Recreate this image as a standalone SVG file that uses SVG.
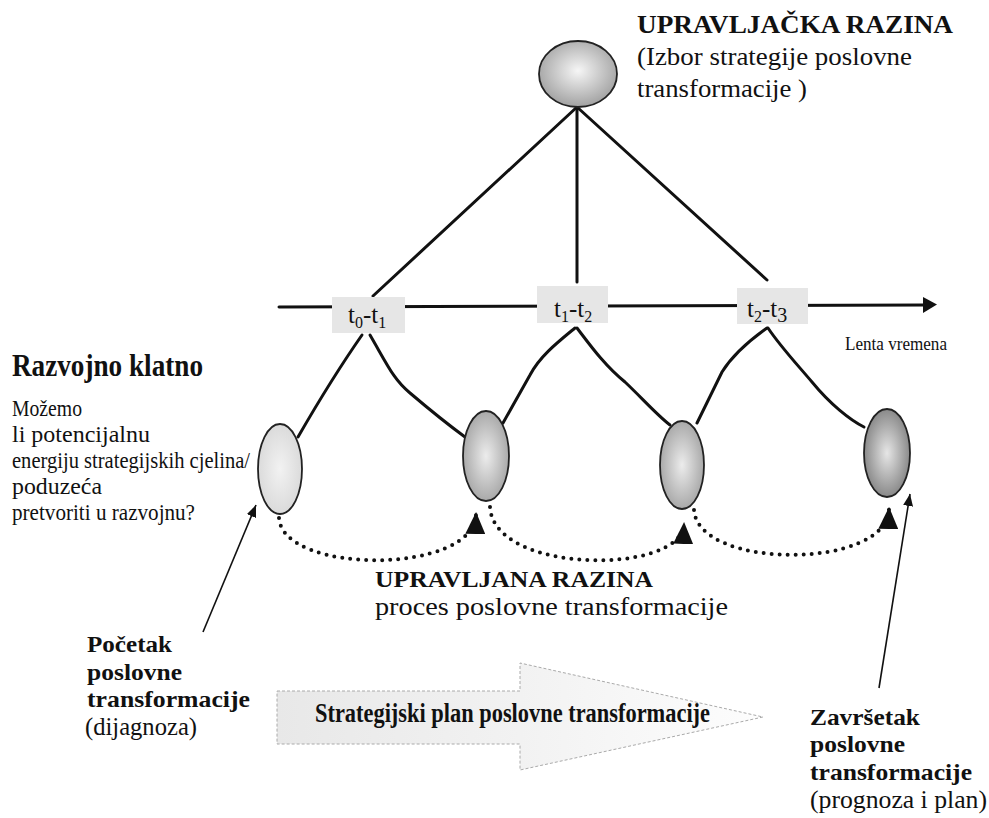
<svg xmlns="http://www.w3.org/2000/svg" width="989" height="818" viewBox="0 0 989 818">
<defs>
<style>
.t{font-family:"Liberation Serif","Times New Roman",serif;fill:#111}
.b{font-weight:bold}
.tree{fill:none;stroke:#111;stroke-width:3;stroke-linecap:round}
.dot{fill:none;stroke:#111;stroke-width:4;stroke-dasharray:0 8;stroke-linecap:round}
.thin{fill:none;stroke:#111;stroke-width:1.6}
.box{fill:#e6e6e6}
.node{stroke:#222;stroke-width:1.8}
</style>
<radialGradient id="gTop" cx="50%" cy="45%" r="60%"><stop offset="0" stop-color="#f6f6f6"/><stop offset="1" stop-color="#9a9a9a"/></radialGradient>
<radialGradient id="g1" cx="50%" cy="50%" r="60%"><stop offset="0" stop-color="#f2f2f2"/><stop offset="1" stop-color="#d6d6d6"/></radialGradient>
<radialGradient id="g2" cx="50%" cy="50%" r="60%"><stop offset="0" stop-color="#ececec"/><stop offset="1" stop-color="#9c9c9c"/></radialGradient>
<radialGradient id="g4" cx="50%" cy="50%" r="60%"><stop offset="0" stop-color="#e6e6e6"/><stop offset="1" stop-color="#777"/></radialGradient>
<linearGradient id="gArrow" x1="277" y1="0" x2="763" y2="0" gradientUnits="userSpaceOnUse"><stop offset="0" stop-color="#e8e8e8"/><stop offset="0.5" stop-color="#f2f2f2"/><stop offset="1" stop-color="#fdfdfd"/></linearGradient>
<marker id="big" markerUnits="userSpaceOnUse" markerWidth="22" markerHeight="20" viewBox="0 0 22 20" refX="20" refY="10" orient="auto"><path d="M0,0 L22,10 L0,20 z" fill="#111"/></marker>
<marker id="small" markerUnits="userSpaceOnUse" markerWidth="12" markerHeight="10" viewBox="0 0 12 10" refX="12" refY="5" orient="auto"><path d="M0,0 L12,5 L0,10 z" fill="#111"/></marker>
</defs>
<rect width="989" height="818" fill="#fff"/>

<g id="connectors">
<line class="tree" x1="577" y1="107" x2="373" y2="296"/>
<line class="tree" x1="577" y1="107" x2="577" y2="282"/>
<line class="tree" x1="577" y1="107" x2="767" y2="280"/>
<line class="tree" x1="279" y1="307" x2="925" y2="305" stroke-linecap="butt"/>
<path d="M923,297 L937,304.5 L923,313 z" fill="#111"/>
<path class="tree" d="M362,335 Q332,378 298,437"/>
<path class="tree" d="M370,335 C388,366 394,380 410,393 C430,410 450,426 465,437"/>
<path class="tree" d="M575,328 C558,342 540,356 530,375 L503,423"/>
<path class="tree" d="M577,328 C590,345 605,366 625,382 C642,398 656,414 670,425"/>
<path class="tree" d="M767,328 C750,340 732,356 722,372 L697,423"/>
<path class="tree" d="M768,328 C780,346 795,362 812,382 C830,404 850,420 864,427"/>
<path class="dot" d="M279,518 C283,575 474,575 476,514" marker-end="url(#big)"/>
<path class="dot" d="M490,507 C494,575 682,575 684,524" marker-end="url(#big)"/>
<path class="dot" d="M694,510 C698,570 887,570 889,509" marker-end="url(#big)"/>
<line class="thin" x1="203" y1="632" x2="256" y2="505" marker-end="url(#small)"/>
<line class="thin" x1="879" y1="688" x2="910" y2="494" marker-end="url(#small)"/>
</g>

<g id="node-top">
<ellipse class="node" cx="578" cy="74" rx="39" ry="33" fill="url(#gTop)"/>
<text class="t b" x="637" y="33" font-size="25" textLength="316" lengthAdjust="spacingAndGlyphs">UPRAVLJAČKA RAZINA</text>
<text class="t" x="637" y="65" font-size="26" textLength="275" lengthAdjust="spacingAndGlyphs">(Izbor strategije poslovne</text>
<text class="t" x="637" y="97" font-size="26" textLength="170" lengthAdjust="spacingAndGlyphs">transformacije )</text>
</g>

<g id="box-t0t1">
<rect class="box" x="332" y="297" width="73" height="36"/>
<text class="t" x="348" y="323" font-size="25">t<tspan font-size="16" dy="5">0</tspan><tspan dy="-5">-t</tspan><tspan font-size="16" dy="5">1</tspan></text>
</g>
<g id="box-t1t2">
<rect class="box" x="537" y="286" width="71" height="37"/>
<text class="t" x="554" y="317" font-size="25">t<tspan font-size="16" dy="5">1</tspan><tspan dy="-5">-t</tspan><tspan font-size="16" dy="5">2</tspan></text>
</g>
<g id="box-t2t3">
<rect class="box" x="737" y="288" width="71" height="36"/>
<text class="t" x="747" y="317" font-size="25">t<tspan font-size="16" dy="5">2</tspan><tspan dy="-5">-t</tspan><tspan font-size="20" dy="5">3</tspan></text>
</g>
<g id="label-lenta">
<text class="t" x="845" y="350" font-size="19" textLength="102" lengthAdjust="spacingAndGlyphs">Lenta vremena</text>
</g>

<g id="node-c1"><ellipse class="node" cx="280" cy="469" rx="22" ry="45" fill="url(#g1)"/></g>
<g id="node-c2"><ellipse class="node" cx="486" cy="456" rx="23" ry="45" fill="url(#g2)"/></g>
<g id="node-c3"><ellipse class="node" cx="682" cy="465" rx="22" ry="44" fill="url(#g2)"/></g>
<g id="node-c4"><ellipse class="node" cx="887" cy="453" rx="23" ry="44" fill="url(#g4)"/></g>

<g id="label-razvojno">
<text class="t b" x="12" y="376" font-size="31" textLength="191" lengthAdjust="spacingAndGlyphs">Razvojno klatno</text>
<text class="t" x="12" y="416" font-size="22.5" textLength="70" lengthAdjust="spacingAndGlyphs">Možemo</text>
<text class="t" x="12" y="442" font-size="22.5" textLength="138" lengthAdjust="spacingAndGlyphs">li potencijalnu</text>
<text class="t" x="12" y="468" font-size="22.5" textLength="238" lengthAdjust="spacingAndGlyphs">energiju strategijskih cjelina/</text>
<text class="t" x="12" y="494" font-size="22.5" textLength="90" lengthAdjust="spacingAndGlyphs">poduzeća</text>
<text class="t" x="12" y="520" font-size="22.5" textLength="183" lengthAdjust="spacingAndGlyphs">pretvoriti u razvojnu?</text>
</g>

<g id="label-upravljana">
<text class="t b" x="375" y="587" font-size="24" textLength="278" lengthAdjust="spacingAndGlyphs">UPRAVLJANA RAZINA</text>
<text class="t" x="375" y="615" font-size="25" textLength="353" lengthAdjust="spacingAndGlyphs">proces poslovne transformacije</text>
</g>

<g id="label-pocetak">
<text class="t b" x="87" y="652" font-size="23" textLength="85" lengthAdjust="spacingAndGlyphs">Početak</text>
<text class="t b" x="87" y="680" font-size="23" textLength="95" lengthAdjust="spacingAndGlyphs">poslovne</text>
<text class="t b" x="87" y="707" font-size="23" textLength="163" lengthAdjust="spacingAndGlyphs">transformacije</text>
<text class="t" x="85" y="735" font-size="25" textLength="112" lengthAdjust="spacingAndGlyphs">(dijagnoza)</text>
</g>

<g id="plan-arrow">
<path d="M277,691 L520,691 L520,663 L763,717 L520,770 L520,744 L277,744 z" fill="url(#gArrow)" stroke="#aaa" stroke-width="1" stroke-dasharray="3 2"/>
<text class="t b" x="315" y="722" font-size="28" textLength="395" lengthAdjust="spacingAndGlyphs">Strategijski plan poslovne transformacije</text>
</g>

<g id="label-zavrsetak">
<text class="t b" x="810" y="725" font-size="23" textLength="110" lengthAdjust="spacingAndGlyphs">Završetak</text>
<text class="t b" x="810" y="752" font-size="23" textLength="95" lengthAdjust="spacingAndGlyphs">poslovne</text>
<text class="t b" x="810" y="780" font-size="23" textLength="162" lengthAdjust="spacingAndGlyphs">transformacije</text>
<text class="t" x="810" y="808" font-size="25" textLength="177" lengthAdjust="spacingAndGlyphs">(prognoza i plan)</text>
</g>
</svg>
